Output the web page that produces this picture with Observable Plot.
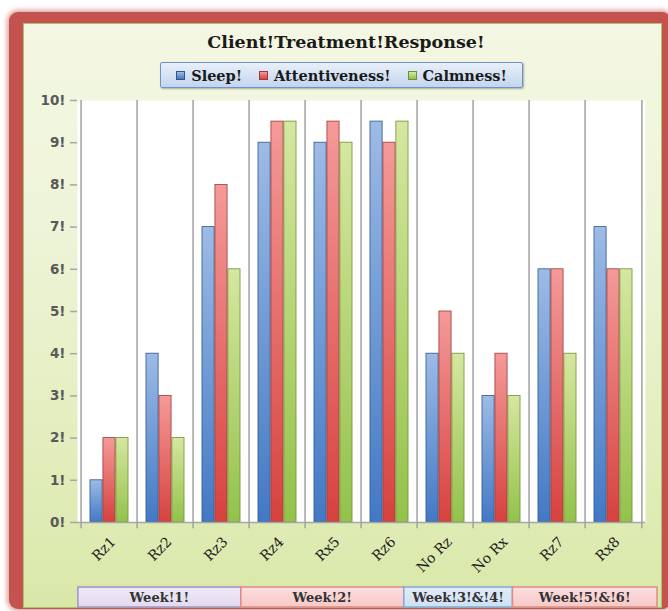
<!DOCTYPE html>
<html><head><meta charset="utf-8">
<script src="https://cdn.jsdelivr.net/npm/d3@7"></script>
<script src="https://cdn.jsdelivr.net/npm/@observablehq/plot@0.6"></script>
<style>
html,body{margin:0;padding:0;background:#fff;}
#wrap{position:relative;width:668px;height:611px;overflow:hidden;}
#frame{position:absolute;left:9px;top:12px;width:662px;height:597px;background:#c4524f;border-radius:9px;box-shadow:0 0 5px 2px rgba(192,80,77,0.55);}
#panel{position:absolute;left:23px;top:23px;width:637px;height:583px;border:1px solid #a9c46a;background:linear-gradient(#f3f7e3 0%, #eef4d8 35%, #e2edbb 75%, #d9e8a9 100%);}
#title{position:absolute;left:0;width:692px;top:32px;text-align:center;font:bold 17.5px "DejaVu Serif";color:#1a1a1a;}
#legend{position:absolute;left:160px;top:62px;width:361px;height:24px;border:1px solid #6f93c8;border-radius:2px;background:linear-gradient(#e8eff9,#c3d5ee);box-shadow:1px 1px 2px rgba(0,0,0,0.3);display:flex;align-items:center;justify-content:center;gap:17px;font:bold 14.5px "DejaVu Serif";color:#1a1a1a;}
#legend .it{display:flex;align-items:center;gap:6px;}
#legend .sw{width:7px;height:7px;border:1px solid;}
#chart{position:absolute;left:0;top:0;}
#chart svg [aria-label="y-axis tick label"] text{font:bold 13.5px "DejaVu Sans";fill:#595959;}
#chart svg [aria-label="y-axis tick"] path{stroke:#a6a6a6;stroke-width:1.5;}
#chart svg [aria-label="x-axis tick label"] text{font:14px "DejaVu Serif";fill:#1a1a1a;}
</style>
</head><body>
<div id="wrap">
  <div id="frame"></div>
  <div id="panel"></div>
  <div id="chart"></div>
  <div id="title"></div>
  <div id="legend"></div>
</div>
<script>
const title = "Client!Treatment!Response!";
const categories = ["Rz1","Rz2","Rz3","Rz4","Rx5","Rz6","No Rz","No Rx","Rz7","Rx8"];
const seriesNames = ["Sleep!","Attentiveness!","Calmness!"];
const sleep =          [1, 4, 7, 9,   9,   9.5, 4, 3, 6, 7];
const attentiveness =  [2, 3, 8, 9.5, 9.5, 9,   5, 4, 6, 6];
const calmness =       [2, 2, 6, 9.5, 9,   9.5, 4, 3, 4, 6];
const seriesValues = [sleep, attentiveness, calmness];
const yTicks = [0,1,2,3,4,5,6,7,8,9,10];
const weekLabels = ["Week!1!","Week!2!","Week!3!&!4!","Week!5!&!6!"];
const weekFirst  = ["Rz1","Rz4","No Rz","Rz7"];
const weekLast   = ["Rz3","Rz6","No Rx","Rx8"];

const colorsTop    = ["#9dbbe6","#f59a98","#d6e7a0"];
const colorsBottom = ["#4279c4","#d6423f","#93c24a"];
const strokes      = ["#30568c","#9a3a3a","#6f8f38"];
const weekFill   = ["#e3daf0","#f8c8c8","#cfe0f4","#f8c8c8"];
const weekStroke = ["#a690c8","#e08a88","#82a8d8","#e08a88"];

const W = 668, H = 611, mL = 77, mR = 23, mT = 100, mB = 89;
const bw = (W - mL - mR) / categories.length;
const barW = 0.228 * bw;
const pad = (bw - 3 * barW) / 2;

const marks = [
  Plot.frame({fill: "white", stroke: "none"}),
  Plot.ruleX(categories, {x: d => d, dx: -bw / 2, y1: -0.15, y2: 10, stroke: "#a6a6a6", strokeWidth: 1.6}),
  Plot.ruleX(categories.slice(-1), {x: d => d, dx: bw / 2, y1: -0.15, y2: 10, stroke: "#a6a6a6", strokeWidth: 1.6}),
  ...seriesValues.map((vals, i) => Plot.barY(categories, {
    x: d => d,
    y: (d, j) => vals[j],
    fill: `url(#grad${i})`,
    stroke: strokes[i],
    strokeWidth: 0.8,
    insetLeft: pad + i * barW,
    insetRight: bw - pad - (i + 1) * barW
  })),
  Plot.ruleY([0], {stroke: "#a6a6a6", strokeWidth: 1.6})
];

const plot = Plot.plot({
  width: W, height: H,
  marginLeft: mL, marginRight: mR, marginTop: mT, marginBottom: mB,
  style: {background: "transparent", overflow: "visible"},
  x: {type: "band", domain: categories, padding: 0, tickSize: 0, tickRotate: -45, tickPadding: 21, label: null},
  y: {domain: [0, 10], ticks: yTicks, tickSize: 7, tickPadding: 5, tickFormat: d => d + "!", label: null},
  marks
});
document.getElementById("chart").appendChild(plot);

// shift x tick labels slightly right of band centre
d3.select(plot).selectAll('[aria-label="x-axis tick label"] text').attr("dx", "0.4em");

// gradients
const svg = d3.select(plot);
const defs = svg.insert("defs", ":first-child");
seriesValues.forEach((v, i) => {
  const g = defs.append("linearGradient").attr("id", `grad${i}`).attr("x1", 0).attr("y1", 0).attr("x2", 0).attr("y2", 1);
  g.append("stop").attr("offset", "0%").attr("stop-color", colorsTop[i]);
  g.append("stop").attr("offset", "100%").attr("stop-color", colorsBottom[i]);
});
weekFill.forEach((c, i) => {
  const g = defs.append("linearGradient").attr("id", `wgrad${i}`).attr("x1", 0).attr("y1", 0).attr("x2", 0).attr("y2", 1);
  g.append("stop").attr("offset", "0%").attr("stop-color", d3.interpolateRgb(c, "#ffffff")(0.4));
  g.append("stop").attr("offset", "100%").attr("stop-color", c);
});

// week bands placed with Plot's x scale (the band row is drawn slightly narrower, last cell wider)
const xs = plot.scale("x");
const left = mL - 3, k = 0.97;
const pos = v => left + (v - mL) * k;
const wg = svg.append("g");
weekLabels.forEach((lab, i) => {
  const x0 = pos(xs.apply(weekFirst[i]));
  const x1 = i === weekLabels.length - 1 ? W - 11 : pos(xs.apply(weekLast[i]) + xs.bandwidth);
  wg.append("rect").attr("x", x0).attr("y", 587).attr("width", x1 - x0).attr("height", 20)
    .attr("fill", `url(#wgrad${i})`).attr("stroke", weekStroke[i]).attr("stroke-width", 1.5);
  wg.append("text").attr("x", (x0 + x1) / 2).attr("y", 597).attr("dy", "0.35em")
    .attr("text-anchor", "middle").attr("font-family", "DejaVu Serif").attr("font-weight", "bold")
    .attr("font-size", 13).attr("fill", "#333").text(lab);
});

document.getElementById("title").textContent = title;
const legend = document.getElementById("legend");
seriesNames.forEach((n, i) => {
  const it = document.createElement("div"); it.className = "it";
  const sw = document.createElement("div"); sw.className = "sw";
  sw.style.background = `linear-gradient(${colorsTop[i]}, ${colorsBottom[i]})`;
  sw.style.borderColor = strokes[i];
  const t = document.createElement("span"); t.textContent = n;
  it.appendChild(sw); it.appendChild(t); legend.appendChild(it);
});
</script>
</body></html>
